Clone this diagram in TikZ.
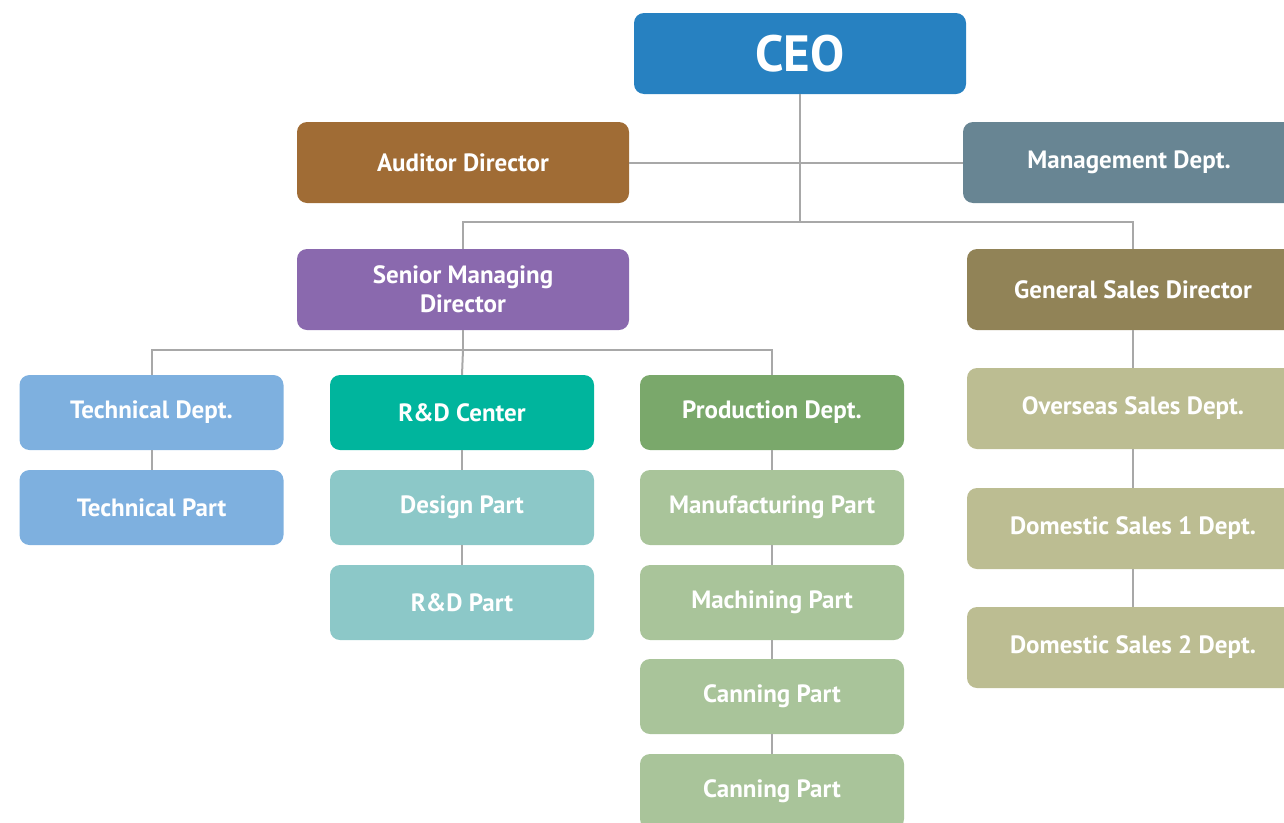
\documentclass[tikz,border=0pt]{standalone}
\usepackage{fontspec}
\setmainfont{PT Sans}
\usepackage{tikz}

\definecolor{ceoblue}{HTML}{2781C1}
\definecolor{auditbrown}{HTML}{A06C35}
\definecolor{mgmtgray}{HTML}{688593}
\definecolor{smdpurple}{HTML}{8A69AE}
\definecolor{gsdolive}{HTML}{918357}
\definecolor{techblue}{HTML}{7EB0DF}
\definecolor{rdteal}{HTML}{00B59D}
\definecolor{rdlight}{HTML}{8CC8C8}
\definecolor{proddark}{HTML}{7AA86B}
\definecolor{prodlight}{HTML}{A9C49A}
\definecolor{saleslight}{HTML}{BCBD92}
\definecolor{linkgray}{HTML}{A8A8A8}

\tikzset{
  unit/.style={rounded corners=10pt, text=white, align=center,
    font=\bfseries\fontsize{25}{29}\selectfont, inner sep=0pt},
  bigunit/.style={unit, minimum width=332, minimum height=81},
  smallunit/.style={unit, minimum width=264, minimum height=75},
  link/.style={draw=linkgray, line width=2pt}
}

\begin{document}
\begin{tikzpicture}[x=1pt, y=-1pt]
\useasboundingbox (0,0) rectangle (1284,822);
\clip (0,0) rectangle (1284,822);
%Top
\node [bigunit, fill=ceoblue, font=\bfseries\fontsize{51}{55}\selectfont] (ceo) at (800,53.5) {CEO};
\node [bigunit, fill=auditbrown] (aud) at (463,162.5) {Auditor Director};
\node [bigunit, fill=mgmtgray] (mgmt) at (1129,162.5) {Management Dept.};
\node [bigunit, fill=smdpurple] (smd) at (463,289.5) {Senior Managing\\Director};
\node [bigunit, fill=gsdolive] (gsd) at (1133,289.5) {General Sales Director};
%Sales column
\node [bigunit, fill=saleslight] (oversea) at (1133,408.5) {Overseas Sales Dept.};
\node [bigunit, fill=saleslight] (dom1) at (1133,528.5) {Domestic Sales 1 Dept.};
\node [bigunit, fill=saleslight] (dom2) at (1133,647.5) {Domestic Sales 2 Dept.};
%Technical column
\node [smallunit, fill=techblue] (tech) at (151.5,412.5) {Technical Dept.};
\node [smallunit, fill=techblue] (techpart) at (151.5,507.5) {Technical Part};
%R&D column
\node [smallunit, fill=rdteal] (rdc) at (462,412.5) {R\&D Center};
\node [smallunit, fill=rdlight] (design) at (462,507.5) {Design Part};
\node [smallunit, fill=rdlight] (rdpart) at (462,602.5) {R\&D Part};
%Production column
\node [smallunit, fill=proddark] (prod) at (772,412.5) {Production Dept.};
\node [smallunit, fill=prodlight] (manu) at (772,507.5) {Manufacturing Part};
\node [smallunit, fill=prodlight] (mach) at (772,602.5) {Machining Part};
\node [smallunit, fill=prodlight] (can1) at (772,696.5) {Canning Part};
\node [smallunit, fill=prodlight] (can2) at (772,791.5) {Canning Part};
%Links
\coordinate (ceobus) at (800,222);
\coordinate (smdbus) at (463,350);
\draw [link] (ceo.south) -- (ceobus);
\draw [link] (aud.east) -- (mgmt.west);
\draw [link] (smd.north) |- (ceobus) -| (gsd.north);
\draw [link] (smd.south) -- (smdbus);
\draw [link] (tech.north) |- (smdbus) -| (prod.north);
\draw [link] (smdbus) -- (rdc.north);
\draw [link] (tech) -- (techpart);
\draw [link] (rdc) -- (design) (design) -- (rdpart);
\draw [link] (prod) -- (manu) (manu) -- (mach) (mach) -- (can1) (can1) -- (can2);
\draw [link] (gsd) -- (oversea) (oversea) -- (dom1) (dom1) -- (dom2);
\end{tikzpicture}
\end{document}
